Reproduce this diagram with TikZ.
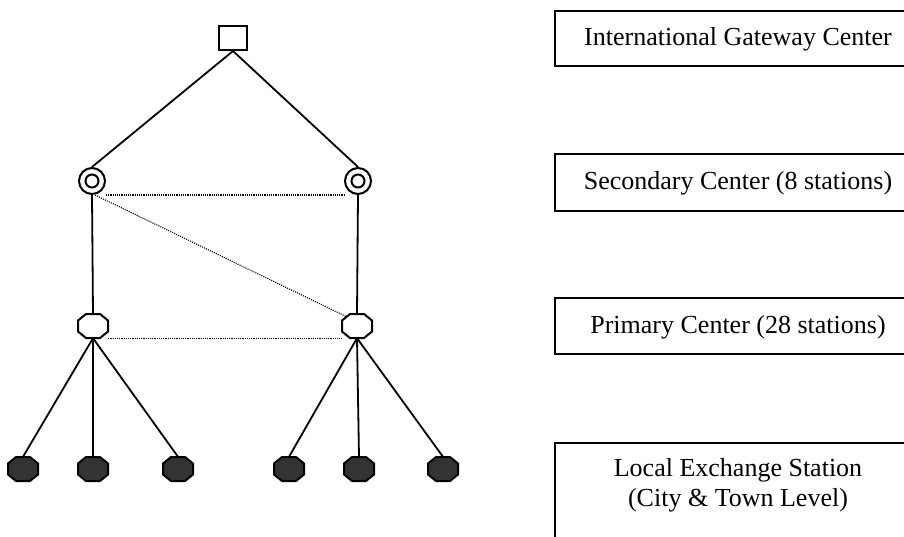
\documentclass[tikz,border=0pt]{standalone}
\usepackage{fontspec}
\setmainfont{Liberation Serif}
\usetikzlibrary{calc}
\definecolor{exfill}{HTML}{333333}
\begin{document}
\begin{tikzpicture}[x=1pt,y=-1pt,
  link/.style={line width=1.8pt},
  trunk/.style={line width=1.1pt,dash pattern=on 1.1pt off 1.1pt},
  gateway/.style={draw,line width=2pt,rectangle,minimum width=28pt,minimum height=24pt,inner sep=0pt},
  secondary/.style={draw,line width=2pt,circle,minimum size=26pt,inner sep=0pt,
    path picture={\draw[line width=2pt] (path picture bounding box.center) circle (6.5pt);}},
  octslot/.style={rectangle,minimum width=30pt,minimum height=24pt,inner sep=0pt},
  octline/.style={line width=2pt},
  legendbox/.style={draw,line width=1.8pt},
  legendtext/.style={font=\fontsize{26}{30}\selectfont,align=center,inner sep=0pt}
]
\useasboundingbox (0,0) rectangle (904,536);

% hierarchy nodes
\node[gateway] (igc) at (233,38) {};
\node[secondary] (sl) at (92,181) {};
\node[secondary] (sr) at (358,181) {};
\node[octslot] (pl) at (93,326) {};
\node[octslot] (pr) at (357,326) {};
\node[octslot] (e1) at (23,469) {};
\node[octslot] (e2) at (93,469) {};
\node[octslot] (e3) at (178,469) {};
\node[octslot] (e4) at (289,469) {};
\node[octslot] (e5) at (359,469) {};
\node[octslot] (e6) at (443,469) {};

% solid links
\draw[link] (igc.south) -- (sl.north);
\draw[link] (igc.south) -- (sr.north);
\draw[link] (sl.south) -- (pl.north);
\draw[link] (sr.south) -- (pr.north);
\foreach \n in {e1,e2,e3} \draw[link] (pl.south) -- (\n.north);
\foreach \n in {e4,e5,e6} \draw[link] (pr.south) -- (\n.north);

% dotted trunks
\draw[trunk] (sl.south -| sl.east) -- (sr.south -| sr.west);
\draw[trunk] ([xshift=3pt]sl.south) -- ([xshift=7pt,yshift=-4pt]pr.north west);
\draw[trunk] (pl.south -| pl.east) -- (pr.south -| pr.west);

% octagon outlines
\foreach \n in {pl,pr}
  \draw[octline,fill=white,shift={(\n.center)}]
    (-7,-12) -- (7,-12) -- (15,-5.5) -- (15,5.5) -- (7,12) -- (-7,12) -- (-15,5.5) -- (-15,-5.5) -- cycle;
\foreach \n in {e1,e2,e3,e4,e5,e6}
  \draw[octline,fill=exfill,shift={(\n.center)}]
    (-7,-12) -- (7,-12) -- (15,-5.5) -- (15,5.5) -- (7,12) -- (-7,12) -- (-15,5.5) -- (-15,-5.5) -- cycle;

% legend boxes
\draw[legendbox] (921,11) -| (555,66) -- (921,66);
\draw[legendbox] (921,154) -| (555,211) -- (921,211);
\draw[legendbox] (921,298) -| (555,354) -- (921,354);
\draw[legendbox] (921,443) -| (555,560);

\node[legendtext] (t1) at (738,39) {International Gateway Center};
\node[legendtext] (t2) at (738,183) {Secondary Center (8 stations)};
\node[legendtext] (t3) at (738,327) {Primary Center (28 stations)};
\node[legendtext] (t4) at (738,485) {Local Exchange Station\\(City \& Town Level)};
\end{tikzpicture}
\end{document}
